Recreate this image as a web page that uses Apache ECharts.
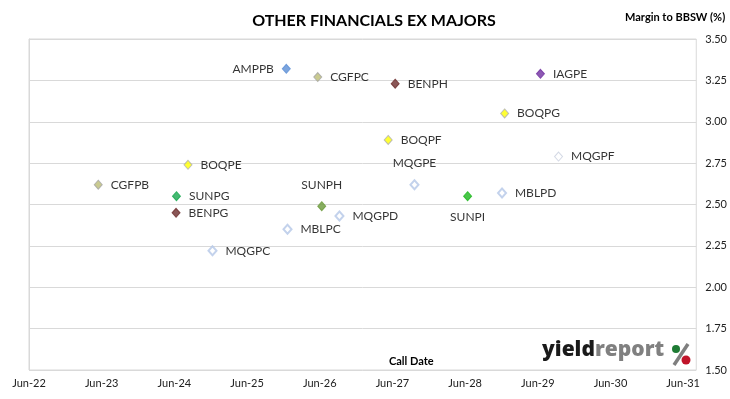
<!DOCTYPE html>
<html>
<head>
<meta charset="UTF-8">
<title>Other Financials ex Majors</title>
<script src="https://cdn.jsdelivr.net/npm/echarts@6/dist/echarts.min.js"></script>
<style>
    html, body { margin: 0; padding: 0; background: #fff; }
    #main { width: 730px; height: 399px; }
</style>
</head>
<body>
<div id="main"></div>
<script>
// securities, call dates and margins (%)
var names     = ['CGFPB', 'SUNPG', 'BENPG', 'BOQPE', 'MQGPC', 'AMPPB', 'MBLPC', 'CGFPC', 'SUNPH', 'MQGPD',
                 'BOQPF', 'BENPH', 'MQGPE', 'SUNPI', 'MBLPD', 'BOQPG', 'IAGPE', 'MQGPF'];
var callDates = ['2023-05-15', '2024-06-11', '2024-06-09', '2024-08-08', '2024-12-09', '2025-12-15', '2025-12-21', '2026-05-22', '2026-06-11', '2026-09-08',
                 '2027-05-11', '2027-06-15', '2027-09-20', '2028-06-13', '2028-12-03', '2028-12-16', '2029-06-14', '2029-09-13'];
var margins   = [2.62, 2.55, 2.45, 2.74, 2.22, 3.32, 2.35, 3.27, 2.49, 2.43,
                 2.89, 3.23, 2.62, 2.55, 2.57, 3.05, 3.29, 2.79];
var xTickLabels = ['Jun-22', 'Jun-23', 'Jun-24', 'Jun-25', 'Jun-26', 'Jun-27', 'Jun-28', 'Jun-29', 'Jun-30', 'Jun-31'];

// look of each issuer's marker
var issuerStyle = {
    CGF: { color: '#bcbd74', borderColor: '#a5a5a5', borderWidth: 1 },
    SUN: { color: '#17a84f', borderColor: '#17a84f', borderWidth: 1 },
    BEN: { color: '#6b2c2c', borderColor: '#6b2c2c', borderWidth: 1 },
    BOQ: { color: '#ffff00', borderColor: '#b0b0b0', borderWidth: 1 },
    MQG: { color: '#ffffff', borderColor: '#b4c7e7', borderWidth: 2 },
    MBL: { color: '#ffffff', borderColor: '#b4c7e7', borderWidth: 2 },
    AMP: { color: '#5b8fd6', borderColor: '#5b8fd6', borderWidth: 1 },
    IAG: { color: '#7030a0', borderColor: '#7030a0', borderWidth: 1 }
};
var specialStyle = {
    SUNPH: { color: '#6a9a3a', borderColor: '#6a9a3a', borderWidth: 1 },
    SUNPI: { color: '#1cb81c', borderColor: '#1cb81c', borderWidth: 1 },
    MQGPF: { color: '#ffffff', borderColor: '#c9d0de', borderWidth: 1 }
};
var labelSide = { AMPPB: 'left', SUNPH: 'top', MQGPE: 'top', SUNPI: 'bottom' };

var DAY = 86400000;
var origin = Date.UTC(2022, 5, 1);
function yearsFromOrigin(s) {
    var p = s.split('-');
    return (Date.UTC(+p[0], +p[1] - 1, +p[2]) - origin) / (365.25 * DAY);
}

var font = 'Lato, "Noto Sans", sans-serif';

var points = names.map(function (n, i) {
    var st = specialStyle[n] || issuerStyle[n.slice(0, 3)];
    var side = labelSide[n] || 'right';
    return {
        name: n,
        value: [yearsFromOrigin(callDates[i]), margins[i]],
        itemStyle: st,
        label: {
            show: true,
            position: side,
            distance: side === 'top' || side === 'bottom' ? 10 : 8,
            formatter: '{b}',
            color: '#000',
            fontFamily: font,
            fontSize: 12
        }
    };
});

var chart = echarts.init(document.getElementById('main'));
chart.setOption({
    animation: false,
    backgroundColor: '#fff',
    title: {
        text: 'OTHER FINANCIALS EX MAJORS',
        left: 369, top: 8, textAlign: 'center',
        textStyle: { fontFamily: font, fontSize: 16, fontWeight: 'bold', color: '#000' }
    },
    grid: { left: 29, right: 33, top: 39, bottom: 29, show: true, borderColor: '#d9d9d9', borderWidth: 1 },
    xAxis: {
        type: 'value', min: 0, max: 9.18, interval: 1,
        axisLine: { show: false }, axisTick: { show: false }, splitLine: { show: false },
        axisLabel: {
            margin: 8, color: '#222', fontFamily: font, fontSize: 11,
            formatter: function (v) {
                var k = Math.round(v);
                return Math.abs(v - k) < 1e-6 ? (xTickLabels[k] || '') : '';
            }
        }
    },
    yAxis: {
        type: 'value', position: 'right', min: 1.5, max: 3.5, interval: 0.25,
        axisLine: { show: true, lineStyle: { color: '#d9d9d9' } },
        axisTick: { show: false },
        splitLine: { lineStyle: { color: '#d9d9d9' } },
        axisLabel: {
            margin: 9, color: '#222', fontFamily: font, fontSize: 11,
            formatter: function (v) { return v.toFixed(2); }
        }
    },
    graphic: [
        { type: 'text', left: 625, top: 12,
          style: { text: 'Margin to BBSW (%)', fontFamily: font, fontSize: 11, fontWeight: 'bold', fill: '#000' } },
        { type: 'text', left: 389, top: 356,
          style: { text: 'Call Date', fontFamily: font, fontSize: 11, fontWeight: 'bold', fill: '#000' } },
        { type: 'text', left: 542, top: 340,
          style: {
              text: '{a|yield}{b|report}',
              rich: {
                  a: { fontFamily: '"Open Sans", sans-serif', fontSize: 21, fontWeight: 800, fill: '#1a1a1a', color: '#1a1a1a' },
                  b: { fontFamily: '"Open Sans", sans-serif', fontSize: 21, fontWeight: 800, fill: '#808080', color: '#808080' }
              }
          } },
        { type: 'line', shape: { x1: 688, y1: 344, x2: 674, y2: 365 }, style: { stroke: '#7f7f7f', lineWidth: 3.5 } },
        { type: 'circle', shape: { cx: 676, cy: 349, r: 4 }, style: { fill: '#1e7b34' } },
        { type: 'circle', shape: { cx: 686, cy: 360, r: 4.5 }, style: { fill: '#c0142a' } }
    ],
    series: [{
        type: 'scatter',
        symbol: 'diamond',
        symbolSize: [8, 9],
        data: points
    }]
});
</script>
</body>
</html>
